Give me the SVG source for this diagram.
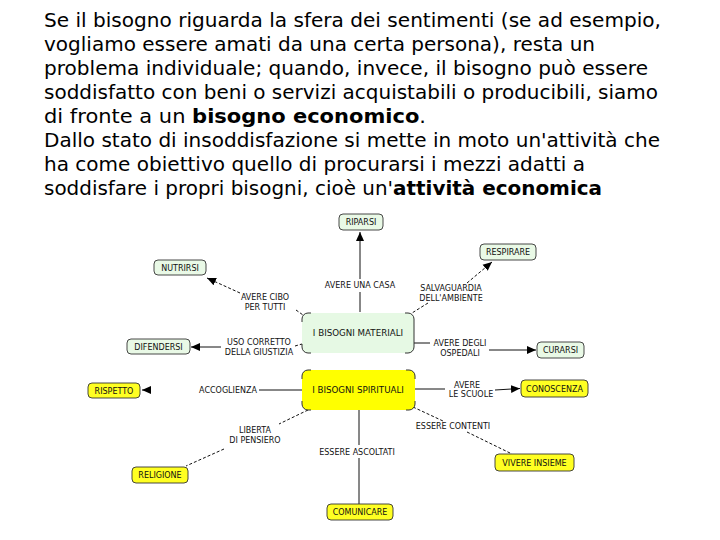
<svg xmlns="http://www.w3.org/2000/svg" width="720" height="540" viewBox="0 0 720 540">
<style>
.body{font-family:"DejaVu Sans","Verdana",sans-serif;font-size:19px;fill:#000}
.b{font-weight:bold}
.node rect{stroke:#333;stroke-width:0.9}
.g rect{fill:#e9f9e6}
.y rect{fill:#ffff22}
.nt{font-family:"DejaVu Sans",sans-serif;font-size:8px;fill:#111;text-anchor:middle}
.ct{font-family:"DejaVu Sans",sans-serif;font-size:8.7px;fill:#111;text-anchor:middle}
.lbl{font-family:"DejaVu Sans",sans-serif;font-size:8px;fill:#111;text-anchor:middle}
.ln{stroke:#111;stroke-width:1;fill:none}
.dash{stroke-dasharray:3,2}
.corner{stroke:#333;stroke-width:1;fill:none}
</style>
<defs>
<marker id="arr" markerUnits="userSpaceOnUse" markerWidth="10" markerHeight="10" viewBox="0 0 10 10" refX="9" refY="5" orient="auto">
<path d="M0,1 L9,5 L0,9 Z" fill="#000"/>
</marker>
</defs>
<rect width="720" height="540" fill="#fff"/>
<g id="text">
<text class="body" x="44" y="27" textLength="617" lengthAdjust="spacingAndGlyphs">Se il bisogno riguarda la sfera dei sentimenti (se ad esempio,</text>
<text class="body" x="44" y="51" textLength="551" lengthAdjust="spacingAndGlyphs">vogliamo essere amati da una certa persona), resta un</text>
<text class="body" x="44" y="75" textLength="604" lengthAdjust="spacingAndGlyphs">problema individuale; quando, invece, il bisogno può essere</text>
<text class="body" x="44" y="99" textLength="614" lengthAdjust="spacingAndGlyphs">soddisfatto con beni o servizi acquistabili o producibili, siamo</text>
<text class="body" x="44" y="123" textLength="382" lengthAdjust="spacingAndGlyphs">di fronte a un <tspan class="b">bisogno economico</tspan>.</text>
<text class="body" x="44" y="147" textLength="616" lengthAdjust="spacingAndGlyphs">Dallo stato di insoddisfazione si mette in moto un'attività che</text>
<text class="body" x="44" y="171" textLength="541" lengthAdjust="spacingAndGlyphs">ha come obiettivo quello di procurarsi i mezzi adatti a</text>
<text class="body" x="44" y="195" textLength="558" lengthAdjust="spacingAndGlyphs">soddisfare i propri bisogni, cioè un'<tspan class="b">attività economica</tspan></text>
</g>
<g id="connectors">
<line class="ln" x1="360" y1="312" x2="360" y2="292"/>
<line class="ln" x1="360" y1="279" x2="360" y2="232" marker-end="url(#arr)"/>
<text class="lbl" x="360" y="288">AVERE UNA CASA</text>
<line class="ln dash" x1="296" y1="310" x2="303" y2="315"/>
<line class="ln dash" x1="240" y1="293" x2="207" y2="278" marker-end="url(#arr)"/>
<text class="lbl" x="265" y="300">AVERE CIBO</text>
<text class="lbl" x="265" y="310">PER TUTTI</text>
<line class="ln dash" x1="428" y1="303" x2="412" y2="313"/>
<line class="ln dash" x1="467" y1="283" x2="492" y2="262" marker-end="url(#arr)"/>
<text class="lbl" x="451" y="291">SALVAGUARDIA</text>
<text class="lbl" x="451" y="301">DELL'AMBIENTE</text>
<line class="ln dash" x1="295" y1="346" x2="302" y2="344"/>
<line class="ln" x1="221" y1="347" x2="191" y2="347" marker-end="url(#arr)"/>
<text class="lbl" x="259" y="345">USO CORRETTO</text>
<text class="lbl" x="259" y="355">DELLA GIUSTIZIA</text>
<line class="ln" x1="414" y1="343" x2="430" y2="343"/>
<line class="ln" x1="489" y1="350" x2="536" y2="350" marker-end="url(#arr)"/>
<text class="lbl" x="460" y="346">AVERE DEGLI</text>
<text class="lbl" x="460" y="356">OSPEDALI</text>
<line class="ln" x1="302" y1="390" x2="259" y2="390"/>
<line class="ln" x1="151" y1="390" x2="142" y2="390" marker-end="url(#arr)"/>
<text class="lbl" x="228" y="393">ACCOGLIENZA</text>
<line class="ln" x1="414" y1="389" x2="445" y2="389"/>
<line class="ln" x1="495" y1="390" x2="520" y2="388.5" marker-end="url(#arr)"/>
<text class="lbl" x="467" y="388">AVERE</text>
<text class="lbl" x="471" y="397">LE SCUOLE</text>
<line class="ln dash" x1="308" y1="410" x2="279" y2="424"/>
<line class="ln dash" x1="224" y1="449" x2="186" y2="466"/>
<text class="lbl" x="255" y="433">LIBERTA</text>
<text class="lbl" x="255" y="443">DI PENSIERO</text>
<line class="ln" x1="359" y1="410" x2="359" y2="445"/>
<line class="ln" x1="359" y1="458" x2="359" y2="504"/>
<text class="lbl" x="357" y="455">ESSERE ASCOLTATI</text>
<line class="ln dash" x1="413" y1="407" x2="443" y2="421"/>
<line class="ln dash" x1="467" y1="432" x2="512" y2="454"/>
<text class="lbl" x="453" y="429">ESSERE CONTENTI</text>
</g>
<g id="materiali">
<rect x="302" y="313" width="112" height="40" rx="6" fill="#e6f9e4"/>
<path class="corner" d="M302,322V319A6,6 0 0 1 308,313H311M405,313H408A6,6 0 0 1 414,319V347A6,6 0 0 1 408,353H405M311,353H308A6,6 0 0 1 302,347V344"/>
<text class="ct" x="358" y="336">I BISOGNI MATERIALI</text>
</g>
<g id="spirituali">
<rect x="302" y="370" width="113" height="40" rx="6" fill="#ffff00"/>
<path class="corner" d="M302,379V376A6,6 0 0 1 308,370H311M406,370H409A6,6 0 0 1 415,376V379M415,401V404A6,6 0 0 1 409,410H406M311,410H308A6,6 0 0 1 302,404V401"/>
<text class="ct" x="358" y="393">I BISOGNI SPIRITUALI</text>
</g>
<g id="riparsi" class="node g"><rect x="339" y="214" width="44" height="16" rx="4"/><text class="nt" x="361" y="225">RIPARSI</text></g>
<g id="respirare" class="node g"><rect x="480" y="244" width="56" height="16" rx="4"/><text class="nt" x="508" y="255">RESPIRARE</text></g>
<g id="nutrirsi" class="node g"><rect x="154" y="260" width="52" height="15" rx="4"/><text class="nt" x="180" y="270.5">NUTRIRSI</text></g>
<g id="difendersi" class="node g"><rect x="127" y="339" width="63" height="15" rx="4"/><text class="nt" x="158.5" y="349.5">DIFENDERSI</text></g>
<g id="curarsi" class="node g"><rect x="537" y="342" width="47" height="16" rx="4"/><text class="nt" x="560.5" y="353">CURARSI</text></g>
<g id="rispetto" class="node y"><rect x="88" y="383" width="52" height="15" rx="4"/><text class="nt" x="114" y="393.5">RISPETTO</text></g>
<g id="conoscenza" class="node y"><rect x="521" y="380" width="67" height="17" rx="4"/><text class="nt" x="554.5" y="391.5">CONOSCENZA</text></g>
<g id="religione" class="node y"><rect x="132" y="467" width="56" height="16" rx="4"/><text class="nt" x="160" y="478">RELIGIONE</text></g>
<g id="comunicare" class="node y"><rect x="327" y="504" width="66" height="16" rx="4"/><text class="nt" x="360" y="515">COMUNICARE</text></g>
<g id="vivere" class="node y"><rect x="495" y="454" width="79" height="17" rx="4"/><text class="nt" x="534.5" y="465.5">VIVERE INSIEME</text></g>
</svg>
